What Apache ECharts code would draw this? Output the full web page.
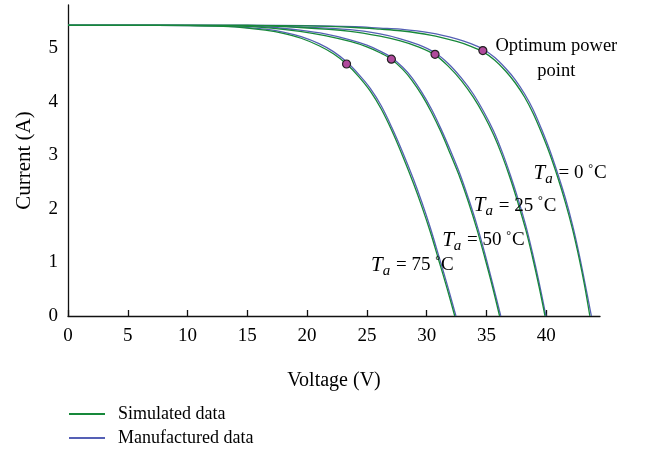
<!DOCTYPE html>
<html>
<head>
<meta charset="utf-8">
<script src="https://cdn.jsdelivr.net/npm/echarts@6/dist/echarts.min.js"></script>
<style>html,body{margin:0;padding:0;background:#fff}#c{width:650px;height:453px}</style>
</head>
<body>
<div id="c"></div>
<script>
// Simulated data [voltage V, current A]
var sim75 = [[0,5.42],[5,5.42],[10,5.415],[13,5.40],[15,5.37],[16.5,5.33],[18,5.27],[19.5,5.18],[21,5.04],[22.2,4.89],[23.3,4.70],[24.3,4.47],[25.3,4.19],[26.2,3.86],[27.1,3.45],[28,2.98],[28.9,2.47],[29.6,2.04],[30.3,1.57],[31,1.05],[31.7,0.52],[32.35,0]];
var sim50 = [[0,5.42],[5,5.42],[10,5.42],[14,5.41],[17,5.37],[19.4,5.31],[21.5,5.23],[23.6,5.12],[25,5.02],[26.1,4.91],[27.05,4.79],[28,4.60],[28.75,4.40],[29.6,4.12],[30.4,3.80],[31.2,3.43],[32,3.01],[32.8,2.57],[33.5,2.12],[34.2,1.62],[34.85,1.1],[35.5,0.55],[36.1,0]];
var sim25 = [[0,5.42],[5,5.42],[10,5.42],[15,5.42],[19.4,5.38],[23.6,5.31],[26.1,5.22],[27.8,5.13],[29.3,5.02],[30.7,4.87],[31.8,4.66],[32.9,4.39],[33.9,4.08],[34.8,3.74],[35.6,3.38],[36.3,3.0],[37,2.56],[37.65,2.1],[38.3,1.6],[38.85,1.1],[39.4,0.55],[39.9,0]];
var sim0  = [[0,5.42],[5,5.42],[10,5.42],[15,5.42],[20,5.41],[24,5.38],[26.1,5.35],[27.8,5.32],[30.3,5.24],[32.5,5.12],[33.7,5.03],[34.7,4.93],[35.7,4.77],[36.6,4.57],[37.4,4.35],[38.2,4.08],[38.9,3.78],[39.6,3.42],[40.3,3.02],[41,2.56],[41.6,2.12],[42.2,1.62],[42.75,1.08],[43.2,0.58],[43.65,0]];
// Manufactured data
var man75 = [[0,5.42],[5,5.42],[10,5.415],[13,5.405],[15,5.38],[16.5,5.35],[18,5.295],[19.5,5.21],[21,5.08],[22.2,4.93],[23.3,4.74],[24.3,4.51],[25.3,4.24],[26.2,3.92],[27.1,3.51],[28,3.05],[28.9,2.55],[29.6,2.12],[30.3,1.65],[31,1.13],[31.7,0.6],[32.45,0]];
var man50 = [[0,5.42],[5,5.42],[10,5.42],[14,5.415],[17,5.385],[19.4,5.33],[21.5,5.26],[23.6,5.15],[25,5.05],[26.1,4.94],[27.05,4.82],[28,4.64],[28.75,4.45],[29.6,4.17],[30.4,3.86],[31.2,3.49],[32,3.08],[32.8,2.64],[33.5,2.19],[34.2,1.7],[34.85,1.18],[35.5,0.62],[36.2,0]];
var man25 = [[0,5.42],[5,5.42],[10,5.42],[15,5.42],[19.4,5.39],[23.6,5.34],[26.1,5.26],[27.8,5.17],[29.3,5.06],[30.7,4.91],[31.8,4.71],[32.9,4.44],[33.9,4.14],[34.8,3.8],[35.6,3.45],[36.3,3.07],[37,2.63],[37.65,2.18],[38.3,1.68],[38.85,1.18],[39.4,0.63],[39.98,0]];
var man0  = [[0,5.42],[5,5.42],[10,5.42],[15,5.42],[20,5.415],[24,5.395],[26.1,5.37],[27.8,5.35],[30.3,5.28],[32.5,5.17],[33.7,5.08],[34.7,4.98],[35.7,4.82],[36.6,4.62],[37.4,4.41],[38.2,4.14],[38.9,3.85],[39.6,3.49],[40.3,3.09],[41,2.63],[41.6,2.2],[42.2,1.7],[42.75,1.16],[43.2,0.66],[43.78,0]];
// Optimum power points
var mpp = [[23.3,4.70],[27.05,4.79],[30.7,4.88],[34.7,4.95]];
// Annotation anchors (text centre) [V, I, temperature]
var tempLabels = [[42.0,2.66,'0'],[37.4,2.06,'25'],[34.75,1.41,'50'],[28.8,0.95,'75']];
var optLabel = [[40.85,4.80]];
var xTicks = {min:0, max:44.5, interval:5};
var yTicks = {min:0, max:5.8, interval:1};

var FONT = '"Liberation Serif", "DejaVu Serif", serif';
var GREEN = '#17883a', BLUE = '#5560b5';

function lineSeries(name, data, color) {
  return {type:'line', name:name, data:data, smooth:0.35, showSymbol:false,
    lineStyle:{color:color, width:1.3}, itemStyle:{color:color}, z:color===GREEN?3:2, silent:true, animation:false};
}

var series = [
  lineSeries('Manufactured data', man75, BLUE),
  lineSeries('Manufactured data', man50, BLUE),
  lineSeries('Manufactured data', man25, BLUE),
  lineSeries('Manufactured data', man0, BLUE),
  lineSeries('Simulated data', sim75, GREEN),
  lineSeries('Simulated data', sim50, GREEN),
  lineSeries('Simulated data', sim25, GREEN),
  lineSeries('Simulated data', sim0, GREEN),
  {type:'scatter', name:'mpp', data:mpp, symbolSize:8, z:5, animation:false,
   itemStyle:{color:'#b04a9c', borderColor:'#222', borderWidth:1.2, opacity:1}},
  {type:'scatter', name:'opt', data:optLabel, symbolSize:1, z:6, animation:false,
   itemStyle:{color:'rgba(0,0,0,0)', opacity:1},
   label:{show:true, position:'inside', formatter:'Optimum power\npoint', align:'center', verticalAlign:'middle',
     fontFamily:FONT, fontSize:18.5, color:'#000', lineHeight:25, opacity:1}},
  {type:'scatter', name:'temps', data:tempLabels, symbolSize:1, z:6, animation:false,
   itemStyle:{color:'rgba(0,0,0,0)', opacity:1},
   label:{show:true, position:'inside', align:'center', verticalAlign:'middle', opacity:1,
     formatter:function(p){return '{t|T}{s|a}{n| = '+p.data[2]+' }{d|°}{n|C}';},
     rich:{
       t:{fontFamily:FONT, fontStyle:'italic', fontSize:21, color:'#000'},
       s:{fontFamily:FONT, fontStyle:'italic', fontSize:15, color:'#000', padding:[12,1,0,0]},
       n:{fontFamily:FONT, fontSize:19, color:'#000'},
       d:{fontFamily:FONT, fontSize:12, color:'#000', padding:[0,1,9,0]}
     }}}
];

var chart = echarts.init(document.getElementById('c'), null, {renderer:'canvas'});
var legendText = {fontFamily:FONT, fontSize:18, color:'#000', padding:[0,0,0,8]};
chart.setOption({
  animation:false,
  backgroundColor:'#fff',
  grid:{left:68, right:50, top:5, bottom:137, containLabel:false},
  legend:[
    {show:true, left:64, top:400, itemWidth:36, itemHeight:2, icon:'rect', selectedMode:false,
     data:[{name:'Simulated data', itemStyle:{color:GREEN}}], textStyle:legendText},
    {show:true, left:64, top:424, itemWidth:36, itemHeight:2, icon:'rect', selectedMode:false,
     data:[{name:'Manufactured data', itemStyle:{color:BLUE}}], textStyle:legendText}
  ],
  xAxis:{type:'value', min:xTicks.min, max:xTicks.max, interval:xTicks.interval,
    name:'Voltage (V)', nameLocation:'middle', nameGap:55,
    nameTextStyle:{fontFamily:FONT, fontSize:20, color:'#000'},
    axisLine:{show:true, onZero:false, lineStyle:{color:'#111', width:1.3}},
    axisTick:{show:true, inside:true, length:6, lineStyle:{color:'#111', width:1.3}},
    axisLabel:{fontFamily:FONT, fontSize:19, color:'#000', margin:11, showMaxLabel:false},
    splitLine:{show:false}},
  yAxis:{type:'value', min:yTicks.min, max:yTicks.max, interval:yTicks.interval,
    name:'Current (A)', nameLocation:'middle', nameGap:33,
    nameTextStyle:{fontFamily:FONT, fontSize:21, color:'#000'},
    axisLine:{show:true, lineStyle:{color:'#111', width:1.3}},
    axisTick:{show:false},
    axisLabel:{fontFamily:FONT, fontSize:19, color:'#000', margin:10, showMaxLabel:false},
    splitLine:{show:false}},
  series:series
});
</script>
</body>
</html>
